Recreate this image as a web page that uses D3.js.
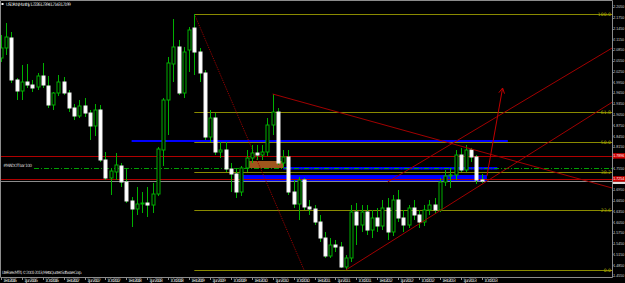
<!DOCTYPE html>
<html>
<head>
<meta charset="utf-8">
<script src="https://cdn.jsdelivr.net/npm/d3@7"></script>
<style>
  html, body { margin: 0; padding: 0; background: #000; overflow: hidden; }
  svg { display: block; }
</style>
</head>
<body>
<script>
// Monthly candles, Feb 2006 .. Oct 2013
const symbol = "USDPLN,Monthly";
const firstMonth = new Date(2006, 1, 1);

const open = [
  2.0628, 2.0907, 2.1186, 2.0015, 1.9708, 1.9959, 1.9875, 1.9819, 2.0126, 1.9847,
  1.9318, 1.9652, 1.9959, 1.9652, 1.9234, 1.9011, 1.9290, 1.9094, 1.8732, 1.9178,
  1.7784, 1.7282, 1.7450, 1.7617, 1.7171, 1.6641, 1.6418, 1.6557, 1.6585, 1.6529,
  1.6836, 1.8063, 1.9457, 2.0461, 2.0935, 1.9652, 2.0851, 2.1464, 2.0795, 2.0210,
  1.8425, 1.8955, 1.8007, 1.8063, 1.7533, 1.7394, 1.6892, 1.7561, 1.7840, 1.7979,
  1.7923, 1.8007, 1.8760, 1.9122, 1.7700, 1.7868, 1.6892, 1.6557, 1.7226, 1.6474,
  1.6418, 1.6055, 1.5609, 1.5108, 1.5414, 1.5358, 1.4801, 1.5052, 1.6334, 1.5972,
  1.6334, 1.5832, 1.6167, 1.5944, 1.6446, 1.5777, 1.6669, 1.6167, 1.5972, 1.6446,
  1.6251, 1.6055, 1.6390, 1.6529, 1.6390, 1.7171, 1.7338, 1.7366, 1.7923, 1.7505,
  1.8063, 1.7868, 1.7226
];
const high = [
  2.1269, 2.1604, 2.1353, 2.0070, 2.0433, 2.0461, 2.0015, 2.0210, 2.0489, 2.0126,
  1.9680, 2.0154, 2.0098, 1.9736, 1.9345, 1.9457, 1.9513, 1.9178, 1.9345, 1.9318,
  1.8007, 1.7561, 1.7979, 1.7700, 1.7561, 1.6752, 1.7031, 1.6892, 1.7031, 1.7143,
  1.8147, 1.9513, 2.0656, 2.1715, 2.1130, 2.0935, 2.1492, 2.1855, 2.0907, 2.0293,
  1.9178, 1.9094, 1.8286, 1.8286, 1.7700, 1.7561, 1.7617, 1.8063, 1.8202, 1.8202,
  1.8202, 1.8955, 1.9624, 1.9234, 1.8063, 1.8063, 1.7226, 1.7310, 1.7282, 1.6669,
  1.6529, 1.6251, 1.5777, 1.5609, 1.5554, 1.5498, 1.5135, 1.6529, 1.6585, 1.6529,
  1.6529, 1.6390, 1.6446, 1.6669, 1.6725, 1.6808, 1.6948, 1.6390, 1.6529, 1.6669,
  1.6390, 1.6529, 1.6669, 1.6725, 1.7282, 1.7505, 1.7561, 1.8063, 1.8119, 1.8202,
  1.8119, 1.7923, 1.7394
];
const low = [
  2.0516, 2.0712, 1.9931, 1.9457, 1.9457, 1.9792, 1.9680, 1.9736, 1.9792, 1.9234,
  1.9178, 1.9568, 1.9596, 1.9122, 1.8899, 1.8955, 1.8983, 1.8342, 1.8453, 1.7728,
  1.7226, 1.6808, 1.7226, 1.7031, 1.6585, 1.5916, 1.6251, 1.6306, 1.6195, 1.6306,
  1.6780, 1.7617, 1.8481, 1.9959, 1.9596, 1.9513, 2.0238, 2.0154, 1.9959, 1.8342,
  1.8286, 1.7923, 1.7840, 1.7450, 1.6892, 1.6725, 1.6780, 1.7450, 1.7700, 1.7784,
  1.7784, 1.7896, 1.8481, 1.7645, 1.7561, 1.6808, 1.6446, 1.6111, 1.6390, 1.6251,
  1.5972, 1.5498, 1.5052, 1.5052, 1.5219, 1.4773, 1.4717, 1.4940, 1.5414, 1.5777,
  1.5693, 1.5609, 1.5777, 1.5832, 1.5554, 1.5665, 1.6055, 1.5777, 1.5888, 1.6111,
  1.5888, 1.5944, 1.6251, 1.6279, 1.6334, 1.7059, 1.7003, 1.7226, 1.7450, 1.7450,
  1.7728, 1.7115, 1.7143
];
const close = [
  2.0907, 2.1213, 2.0015, 1.9708, 1.9959, 1.9875, 1.9792, 2.0126, 1.9875, 1.9318,
  1.9652, 1.9959, 1.9652, 1.9234, 1.9011, 1.9290, 1.9094, 1.8732, 1.9178, 1.7784,
  1.7282, 1.7477, 1.7645, 1.7171, 1.6641, 1.6418, 1.6557, 1.6585, 1.6529, 1.6836,
  1.8091, 1.9457, 2.0489, 2.0935, 1.9652, 2.0795, 2.1409, 2.0795, 2.0210, 1.8425,
  1.8955, 1.8007, 1.8063, 1.7533, 1.7394, 1.6892, 1.7561, 1.7840, 1.7979, 1.7923,
  1.8007, 1.8760, 1.9122, 1.7700, 1.7868, 1.6892, 1.6557, 1.7226, 1.6474, 1.6418,
  1.6055, 1.5609, 1.5108, 1.5414, 1.5358, 1.4801, 1.5052, 1.6334, 1.5972, 1.6334,
  1.5832, 1.6167, 1.5944, 1.6446, 1.5777, 1.6669, 1.6167, 1.5972, 1.6446, 1.6251,
  1.6055, 1.6390, 1.6529, 1.6390, 1.7171, 1.7338, 1.7366, 1.7923, 1.7505, 1.8063,
  1.7868, 1.7226, 1.7199
];

// right price scale labels
const priceTicks = [
  2.2050, 2.1750, 2.1450, 2.1150, 2.0850, 2.0550, 2.0250, 1.9950, 1.9650, 1.9350,
  1.9050, 1.8750, 1.8450, 1.8150, 1.7850, 1.7550, 1.7250, 1.6950, 1.6650, 1.6350,
  1.6050, 1.5750, 1.5450, 1.5150, 1.4850, 1.4550
];
const timeTickStep = 4; // a date label every 4 bars

// Fibonacci retracement drawn from the Mar 2009 high to the 2011 low
const fibLevels = [0.0, 23.6, 38.2, 50.0, 61.8, 100.0];
const fibTimes = ["2009-03", "2010-12"];

// horizontal lines
const redLevels = [1.7896, 1.7254];
const dotLevel = 1.7561;
const dotLabel = "#MADOT bar 100";

// rectangles: [from, to, price1, price2, colour]
const zoneFrom = ["2008-03", "2010-08", "2009-12", "2010-01"];
const zoneTo = ["2014-03", "2014-01", "2013-11", "2010-08"];
const zoneLow = [1.8286, 1.7519, 1.7185, 1.7561];
const zoneHigh = [1.8342, 1.7589, 1.7366, 1.7757];
const zoneColor = ["#0000ff", "#0000ff", "#0000ff", "#a0561c"];

// trend lines (rays to the right): [time1, price1, time2, price2]
const trendT1 = ["2010-06", "2011-08", "2012-04"];
const trendP1 = [1.9624, 1.4717, 1.7171];
const trendT2 = ["2014-05", "2013-08", "2014-05"];
const trendP2 = [1.7728, 1.6920, 1.9345];

// the projected move arrow
const arrowT = ["2013-11", "2014-02"];
const arrowP = [1.7338, 1.9792];

const W = 625, H = 283;
const plotRight = 612, plotTop = 2, plotBottom = 277;
const fontFam = "'DejaVu Sans', 'Liberation Sans', sans-serif";
const axisFont = "'Liberation Sans', Arial, sans-serif";

// bar index of a "YYYY-MM" string
function barIndex(s) {
  const [yy, mm] = s.split("-").map(Number);
  return (yy - firstMonth.getFullYear()) * 12 + (mm - 1 - firstMonth.getMonth());
}

const x = d3.scaleLinear().domain([0, 92]).range([1, 481.7]);
const y = d3.scaleLinear().domain([1.455, 2.205]).range([276, 7]);
const fmt = d3.format(".4f");
const dateFmt = d3.timeFormat("%-d %b %Y");

const svg = d3.select("body").append("svg")
  .attr("width", W)
  .attr("height", H)
  .attr("viewBox", [0, 0, W, H])
  .style("background", "#000");

svg.append("defs").append("clipPath").attr("id", "plot")
  .append("rect")
  .attr("x", 1).attr("y", plotTop)
  .attr("width", plotRight - 1).attr("height", plotBottom - plotTop);

const g = svg.append("g").attr("clip-path", "url(#plot)");

// background rectangles
g.append("g")
  .selectAll("rect")
  .data(zoneFrom)
  .join("rect")
  .attr("x", (d) => x(barIndex(d)))
  .attr("width", (d, i) => x(barIndex(zoneTo[i])) - x(barIndex(d)))
  .attr("y", (d, i) => y(zoneHigh[i]))
  .attr("height", (d, i) => y(zoneLow[i]) - y(zoneHigh[i]))
  .attr("fill", (d, i) => zoneColor[i]);

// full-width horizontal lines
g.append("g")
  .attr("stroke", "#b00000")
  .selectAll("line")
  .data(redLevels)
  .join("line")
  .attr("x1", 0).attr("x2", plotRight)
  .attr("y1", (d) => Math.round(y(d)) + 0.5)
  .attr("y2", (d) => Math.round(y(d)) + 0.5);

g.append("line")
  .attr("x1", 34).attr("x2", plotRight)
  .attr("y1", Math.round(y(dotLevel)) + 0.5)
  .attr("y2", Math.round(y(dotLevel)) + 0.5)
  .attr("stroke", "#00a000")
  .attr("stroke-dasharray", "5,2,1,2");

const lastClose = close[close.length - 1];
g.append("line")
  .attr("x1", 0).attr("x2", plotRight)
  .attr("y1", Math.round(y(lastClose)) + 0.5)
  .attr("y2", Math.round(y(lastClose)) + 0.5)
  .attr("stroke", "#8c8c8c");

// Fibonacci levels
const fibHigh = d3.max(high), fibLow = d3.min(low);
const fibX1 = x(barIndex(fibTimes[0])), fibX2 = x(barIndex(fibTimes[1]));
const fibY = (lv) => Math.round(y(fibLow + (fibHigh - fibLow) * lv / 100)) + 0.5;

g.append("g")
  .attr("stroke", "#8a8a00")
  .selectAll("line")
  .data(fibLevels)
  .join("line")
  .attr("x1", fibX1).attr("x2", plotRight)
  .attr("y1", fibY).attr("y2", fibY);

g.append("line")
  .attr("x1", fibX1).attr("y1", y(fibHigh))
  .attr("x2", fibX2).attr("y2", y(fibLow))
  .attr("stroke", "#a00000")
  .attr("stroke-dasharray", "1,1");

g.append("g")
  .selectAll("text")
  .data(fibLevels)
  .join("text")
  .attr("x", plotRight - 1)
  .attr("y", (d) => fibY(d) + 1)
  .attr("text-anchor", "end")
  .attr("font-family", fontFam)
  .attr("font-size", 4.6)
  .attr("fill", "#b0b000")
  .text((d) => d.toFixed(1));

// candles
const bars = g.append("g").selectAll("g").data(open).join("g");

bars.append("line")
  .attr("x1", (d, i) => Math.round(x(i)) + 0.5)
  .attr("x2", (d, i) => Math.round(x(i)) + 0.5)
  .attr("y1", (d, i) => y(high[i]))
  .attr("y2", (d, i) => y(low[i]))
  .attr("stroke", "#00b000");

bars.append("rect")
  .attr("x", (d, i) => Math.round(x(i)) - 1)
  .attr("width", 3)
  .attr("y", (d, i) => y(Math.max(open[i], close[i])))
  .attr("height", (d, i) => Math.max(1, Math.abs(y(open[i]) - y(close[i]))))
  .attr("fill", (d, i) => (close[i] >= open[i] ? "#000" : "#fff"))
  .attr("stroke", (d, i) => (close[i] >= open[i] ? "#00b000" : "#f0f0f0"))
  .attr("stroke-width", 1);

// trend lines, extended to the price scale
function rayEnd(t1, p1, t2, p2) {
  const x1 = x(barIndex(t1)), y1 = y(p1);
  const x2 = x(barIndex(t2)), y2 = y(p2);
  return [x1, y1, plotRight, y1 + (y2 - y1) * (plotRight - x1) / (x2 - x1)];
}

g.append("g")
  .attr("stroke", "#a00000")
  .selectAll("line")
  .data(trendT1)
  .join("line")
  .each(function (d, i) {
    const [x1, y1, x2, y2] = rayEnd(d, trendP1[i], trendT2[i], trendP2[i]);
    d3.select(this).attr("x1", x1).attr("y1", y1).attr("x2", x2).attr("y2", y2);
  });

// arrow
const ax1 = x(barIndex(arrowT[0])), ay1 = y(arrowP[0]);
const ax2 = x(barIndex(arrowT[1])), ay2 = y(arrowP[1]);
const ang = Math.atan2(ay2 - ay1, ax2 - ax1);
g.append("path")
  .attr("d", `M${ax1},${ay1}L${ax2},${ay2}` +
    `M${ax2 - 6 * Math.cos(ang - 0.5)},${ay2 - 6 * Math.sin(ang - 0.5)}L${ax2},${ay2}` +
    `L${ax2 - 6 * Math.cos(ang + 0.5)},${ay2 - 6 * Math.sin(ang + 0.5)}`)
  .attr("fill", "none")
  .attr("stroke", "#c00000");

// frame
svg.append("path")
  .attr("d", `M0.5,${plotBottom + 0.5}V0.5H${plotRight + 0.5}V${plotBottom + 0.5}H0.5`)
  .attr("fill", "none")
  .attr("stroke", "#8c8c8c");

// price scale (labels hidden where a highlighted price sits on top)
const hidden = (p) => redLevels.concat([lastClose]).some((r) => Math.abs(y(r) - y(p)) < 5.5);
const yAxis = svg.append("g");
yAxis.selectAll("line")
  .data(priceTicks)
  .join("line")
  .attr("x1", plotRight).attr("x2", plotRight + 1.5)
  .attr("y1", (d) => Math.round(y(d)) + 0.5)
  .attr("y2", (d) => Math.round(y(d)) + 0.5)
  .attr("stroke", "#8c8c8c");
yAxis.selectAll("text")
  .data(priceTicks.filter((p) => !hidden(p)))
  .join("text")
  .attr("x", plotRight + 1.3)
  .attr("y", (d) => y(d) + 1.4)
  .attr("font-family", axisFont)
  .attr("font-size", 3.6)
  .attr("fill", "#d8d8d8")
  .text((d) => fmt(d));

// bid price strip, then the red line labels over it
svg.append("rect")
  .attr("x", plotRight + 1).attr("width", W - plotRight)
  .attr("y", y(lastClose) + 0.5).attr("height", 2.5)
  .attr("fill", "#e0e0e0");

const mk = svg.append("g").selectAll("g").data(redLevels).join("g");
mk.append("rect")
  .attr("x", plotRight + 1).attr("width", W - plotRight)
  .attr("y", (d) => y(d) - 2.8).attr("height", 5.4)
  .attr("fill", "#d00000");
mk.append("text")
  .attr("x", plotRight + 1.3)
  .attr("y", (d) => y(d) + 1.4)
  .attr("font-family", axisFont)
  .attr("font-size", 3.6)
  .attr("fill", "#fff")
  .text((d) => fmt(d));

// time scale
const tIdx = d3.range(0, open.length, timeTickStep);
const xAxis = svg.append("g");
xAxis.selectAll("line")
  .data(tIdx)
  .join("line")
  .attr("x1", (d) => Math.round(x(d)) + 0.5)
  .attr("x2", (d) => Math.round(x(d)) + 0.5)
  .attr("y1", plotBottom).attr("y2", plotBottom + 3)
  .attr("stroke", "#8c8c8c");
xAxis.selectAll("text")
  .data(tIdx)
  .join("text")
  .attr("x", (d) => Math.round(x(d)) + 2)
  .attr("y", 282)
  .attr("font-family", fontFam)
  .attr("font-size", 4.6)
  .attr("textLength", 14)
  .attr("fill", "#d8d8d8")
  .text((d) => dateFmt(d3.timeMonth.offset(firstMonth, d)));

// header and other chart texts
svg.append("rect").attr("x", 1.5).attr("y", 3).attr("width", 2).attr("height", 2).attr("fill", "#fff");
svg.append("text")
  .attr("x", 6).attr("y", 6)
  .attr("font-family", fontFam).attr("font-size", 4.6)
  .attr("textLength", 65)
  .attr("fill", "#d8d8d8")
  .text(`${symbol}  ${fmt(open[92])} ${fmt(high[92])} ${fmt(low[92])} ${fmt(lastClose)}`);

svg.append("text")
  .attr("x", 3).attr("y", 167.3)
  .attr("font-family", fontFam).attr("font-size", 4.4)
  .attr("textLength", 29)
  .attr("fill", "#c8c8c8")
  .text(dotLabel);

svg.append("text")
  .attr("x", 2).attr("y", 273.5)
  .attr("font-family", fontFam).attr("font-size", 4.4)
  .attr("textLength", 80)
  .attr("fill", "#c8c8c8")
  .text("LiteForex MT4, © 2001-2013, MetaQuotes Software Corp.");
</script>
</body>
</html>
